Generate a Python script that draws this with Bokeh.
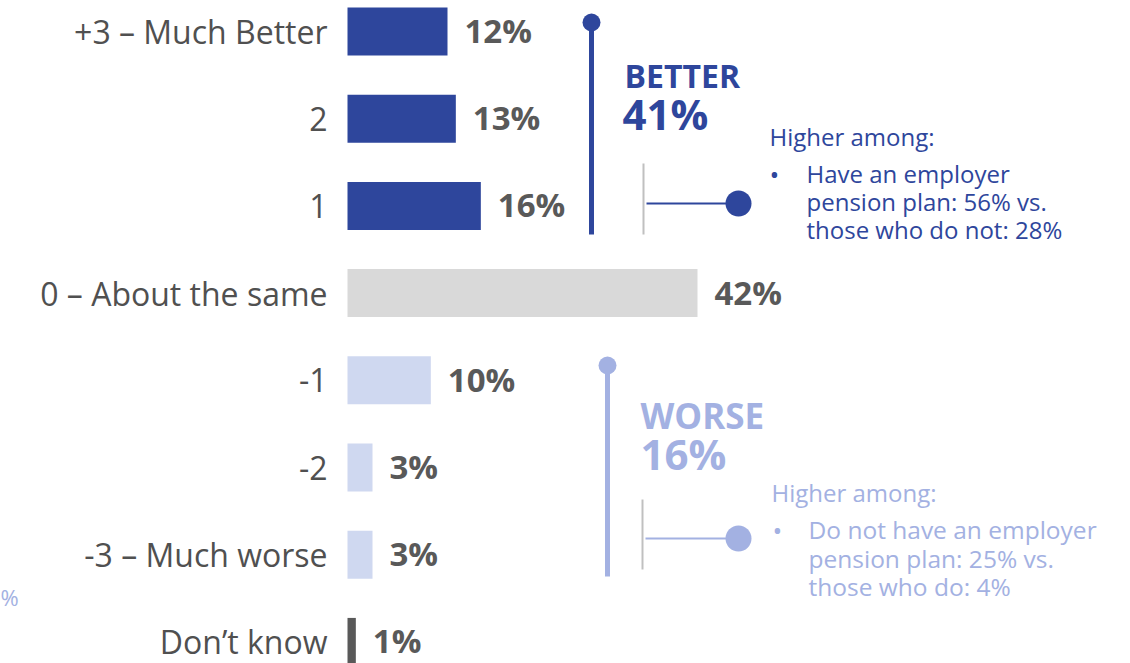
from bokeh.plotting import figure
from bokeh.models import Range1d, ColumnDataSource
from bokeh.core.properties import value
from bokeh.embed import file_html
from bokeh.resources import INLINE

# ---- data ----
categories = ["+3 – Much Better", "2", "1", "0 – About the same", "-1", "-2", "-3 – Much worse", "Don’t know"]
values = [12, 13, 16, 42, 10, 3, 3, 1]
bar_colors = ["#2E469C", "#2E469C", "#2E469C", "#D9D9D9", "#CFD8F0", "#CFD8F0", "#CFD8F0", "#595959"]
better_total = 41
worse_total = 16
better_note = ["Have an employer", "pension plan: 56% vs.", "those who do not: 28%"]
worse_note = ["Do not have an employer", "pension plan: 25% vs.", "those who do: 4%"]

DARK = "#2E469C"
LIGHT = "#A3B1E2"
GREY_TXT = "#595959"
FONT = "Open Sans"

# pixel helpers (screen px -> data units)
PX = 350 / 42.0   # px per percent
X0 = 347          # px where bars start
Y0, DY = 31, 87.2  # row 0 center px, row spacing


def ux(px):
    return (px - X0) / PX


def uy(py):
    return (py - Y0) / DY


W, H = 1122, 663
p = figure(width=W, height=H, output_backend="svg", toolbar_location=None,
           x_range=Range1d(ux(0), ux(W)), y_range=Range1d(uy(H), uy(0)),
           min_border=0)
p.outline_line_color = None
p.axis.visible = False
p.grid.visible = False
p.background_fill_color = "white"
p.border_fill_color = "white"

rows = list(range(len(categories)))
src = ColumnDataSource(dict(y=rows, v=values, c=bar_colors, cat=categories,
                            lab=[f"{v}%" for v in values]))
p.hbar(y="y", left=0, right="v", height=0.55, fill_color="c", line_color=None, source=src)

# category labels
p.text(x=0, y="y", text="cat", source=src, x_offset=-20, text_align="right",
       text_baseline="middle", text_font=value(FONT), text_font_size="32px",
       text_color="#505050")
# value labels
p.text(x="v", y="y", text="lab", source=src, x_offset=17, y_offset=-1, text_align="left",
       text_baseline="middle", text_font=value(FONT), text_font_size="33px",
       text_font_style="bold", text_color=GREY_TXT)

# ---- BETTER bracket ----
p.segment(x0=ux(591), y0=uy(22), x1=ux(591), y1=uy(234), line_color=DARK, line_width=5)
p.scatter(x=[ux(591)], y=[uy(22)], size=18, fill_color=DARK, line_color=None)
p.text(x=[ux(624)], y=[uy(75)], text=["BETTER"], text_align="left", text_baseline="middle",
       text_font=value(FONT), text_font_size="32px", text_font_style="bold", text_color=DARK)
p.text(x=[ux(622)], y=[uy(113)], text=[f"{better_total}%"], text_align="left", text_baseline="middle",
       text_font=value(FONT), text_font_size="42px", text_font_style="bold", text_color=DARK)
p.segment(x0=ux(643), y0=uy(163), x1=ux(643), y1=uy(234), line_color="#C0C0C0", line_width=2)
p.segment(x0=ux(646), y0=uy(203), x1=ux(738), y1=uy(203), line_color=DARK, line_width=2)
p.scatter(x=[ux(738)], y=[uy(203)], size=26, fill_color=DARK, line_color=None)
p.text(x=[ux(769)], y=[uy(136)], text=["Higher among:"], text_align="left", text_baseline="middle",
       text_font=value(FONT), text_font_size="24px", text_color=DARK)
p.text(x=[ux(769)], y=[uy(173)], text=["•"], text_align="left", text_baseline="middle",
       text_font=value(FONT), text_font_size="26px", text_color=DARK)
p.text(x=[ux(806)] * 3, y=[uy(173 + 28 * i) for i in range(3)], text=better_note,
       text_align="left", text_baseline="middle",
       text_font=value(FONT), text_font_size="24px", text_color=DARK)

# ---- WORSE bracket ----
p.segment(x0=ux(607), y0=uy(365), x1=ux(607), y1=uy(576), line_color=LIGHT, line_width=5)
p.scatter(x=[ux(607)], y=[uy(365)], size=18, fill_color=LIGHT, line_color=None)
p.text(x=[ux(640)], y=[uy(415)], text=["WORSE"], text_align="left", text_baseline="middle",
       text_font=value(FONT), text_font_size="35px", text_font_style="bold", text_color=LIGHT)
p.text(x=[ux(640)], y=[uy(453)], text=[f"{worse_total}%"], text_align="left", text_baseline="middle",
       text_font=value(FONT), text_font_size="42px", text_font_style="bold", text_color=LIGHT)
p.segment(x0=ux(642), y0=uy(499), x1=ux(642), y1=uy(569), line_color="#C0C0C0", line_width=2)
p.segment(x0=ux(645), y0=uy(538), x1=ux(738), y1=uy(538), line_color=LIGHT, line_width=2)
p.scatter(x=[ux(738)], y=[uy(538)], size=26, fill_color=LIGHT, line_color=None)
p.text(x=[ux(771)], y=[uy(492)], text=["Higher among:"], text_align="left", text_baseline="middle",
       text_font=value(FONT), text_font_size="24px", text_color=LIGHT)
p.text(x=[ux(772)], y=[uy(529)], text=["•"], text_align="left", text_baseline="middle",
       text_font=value(FONT), text_font_size="26px", text_color=LIGHT)
p.text(x=[ux(808)] * 3, y=[uy(529 + 28.5 * i) for i in range(3)], text=worse_note,
       text_align="left", text_baseline="middle",
       text_font=value(FONT), text_font_size="24.5px", text_color=LIGHT)

# stray cut-off label at far left
p.text(x=[ux(0)], y=[uy(596)], text=["%"], text_align="left", text_baseline="middle",
       text_font=value(FONT), text_font_size="22px", text_color=LIGHT)

open("out.html", "w").write(file_html(p, INLINE))
